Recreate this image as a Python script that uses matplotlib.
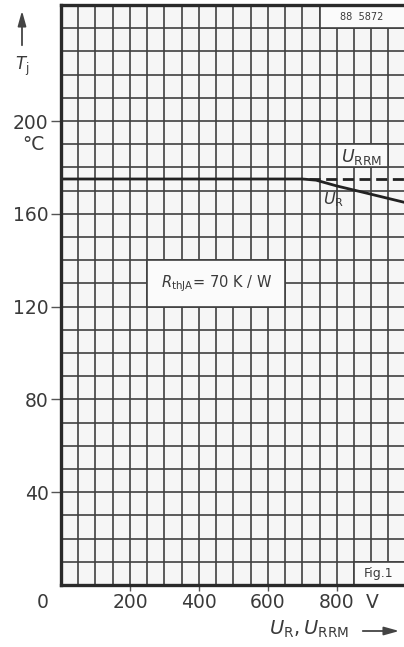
import matplotlib
matplotlib.use("Agg")
import matplotlib.pyplot as plt
from matplotlib.patches import Rectangle

# ---- data ----
x_ur = [0, 700, 740, 800, 870, 1000]
t_ur = [175, 175, 174.5, 172, 169.5, 164.8]
x_urrm = [720, 1000]
t_urrm = [175, 175]
x_ticks = [200, 400, 600, 800]
x_ticklabels = ["200", "400", "600", "800"]
y_ticks = [40, 80, 120, 160, 200]
y_ticklabels = ["40", "80", "120", "160", "200"]

W, H = 404, 647
fig = plt.figure(figsize=(W / 100, H / 100), dpi=100)
fig.patch.set_facecolor("white")

left = 61 / W
bottom = (H - 585) / H
top = 1 - 5 / H
ax = fig.add_axes([left, bottom, 1.0 - left, top - bottom])
ax.set_facecolor("#f6f6f6")
ax.set_xlim(0, 995)
ax.set_ylim(0, 250)

gridc = "#404040"
txtc = "#3a3a3a"
for v in range(50, 1000, 50):
    ax.axvline(v, color=gridc, lw=1.2, zorder=1)
for t in range(10, 250, 10):
    ax.axhline(t, color=gridc, lw=1.2, zorder=1)

# white label boxes
boxes = [((250, 120), 400, 20), ((800, 180), 150, 10), ((750, 240), 260, 10), ((850, 0), 160, 10)]
for (bx, by), bw, bh in boxes:
    ax.add_patch(Rectangle((bx, by), bw, bh, facecolor="#fbfbfb", edgecolor=gridc, lw=1.2, zorder=2))

ax.plot(x_ur, t_ur, color="#222222", lw=2.0, zorder=4, solid_capstyle="butt")
ax.plot(x_urrm, t_urrm, color="#222222", lw=2.0, ls=(0, (4, 2)), zorder=4)

ax.text(450, 130, r"$R_{\mathrm{thJA}}$= 70 K / W", ha="center", va="center", fontsize=10.5, color=txtc, zorder=5)
ax.text(872, 184.5, r"$U_{\mathrm{RRM}}$", ha="center", va="center", fontsize=12.5, color=txtc, zorder=5)
ax.text(790, 166, r"$U_{\mathrm{R}}$", ha="center", va="center", fontsize=11.5, color=txtc, zorder=5)
ax.text(872, 245, "88  5872", ha="center", va="center", fontsize=7, color=txtc, zorder=5)
ax.text(922, 5, "Fig.1", ha="center", va="center", fontsize=9, color=txtc, zorder=5)

for s in ["left", "bottom", "top"]:
    ax.spines[s].set_linewidth(2.4)
    ax.spines[s].set_color("#2a2a2a")
    ax.spines[s].set_zorder(6)
ax.spines["right"].set_visible(False)

ax.set_xticks(x_ticks)
ax.set_xticklabels(x_ticklabels)
ax.set_yticks(y_ticks)
ax.set_yticklabels(y_ticklabels)
ax.tick_params(axis="both", direction="out", width=1.0, color="#555555",
               labelsize=13.5, labelcolor=txtc)
ax.tick_params(axis="x", length=4, pad=2)
ax.tick_params(axis="y", length=7, pad=2)

# extra figure text
fig.text(43 / W, 1 - 603 / H, "0", ha="center", va="center", fontsize=13.5, color=txtc)
fig.text(372 / W, 1 - 603 / H, "V", ha="center", va="center", fontsize=13.5, color=txtc)
fig.text(33 / W, 1 - 145 / H, "°C", ha="center", va="center", fontsize=13.5, color=txtc)
fig.text(22 / W, 1 - 66 / H, r"$T_{\mathrm{j}}$", ha="center", va="center", fontsize=12, color=txtc)
fig.text(309 / W, 1 - 629 / H, r"$U_{\mathrm{R}}, U_{\mathrm{RRM}}$", ha="center", va="center", fontsize=14, color=txtc)

ax2 = fig.add_axes([0, 0, 1, 1], facecolor="none")
ax2.set_xlim(0, W)
ax2.set_ylim(H, 0)
ax2.axis("off")
ax2.annotate("", xy=(22, 8), xytext=(22, 48),
             arrowprops=dict(arrowstyle="-|>,head_length=0.9,head_width=0.25", color="#444444", lw=1.3))
ax2.annotate("", xy=(402, 631), xytext=(360, 631),
             arrowprops=dict(arrowstyle="-|>,head_length=0.9,head_width=0.25", color="#444444", lw=1.3))

fig.savefig("out.png", dpi=100)
